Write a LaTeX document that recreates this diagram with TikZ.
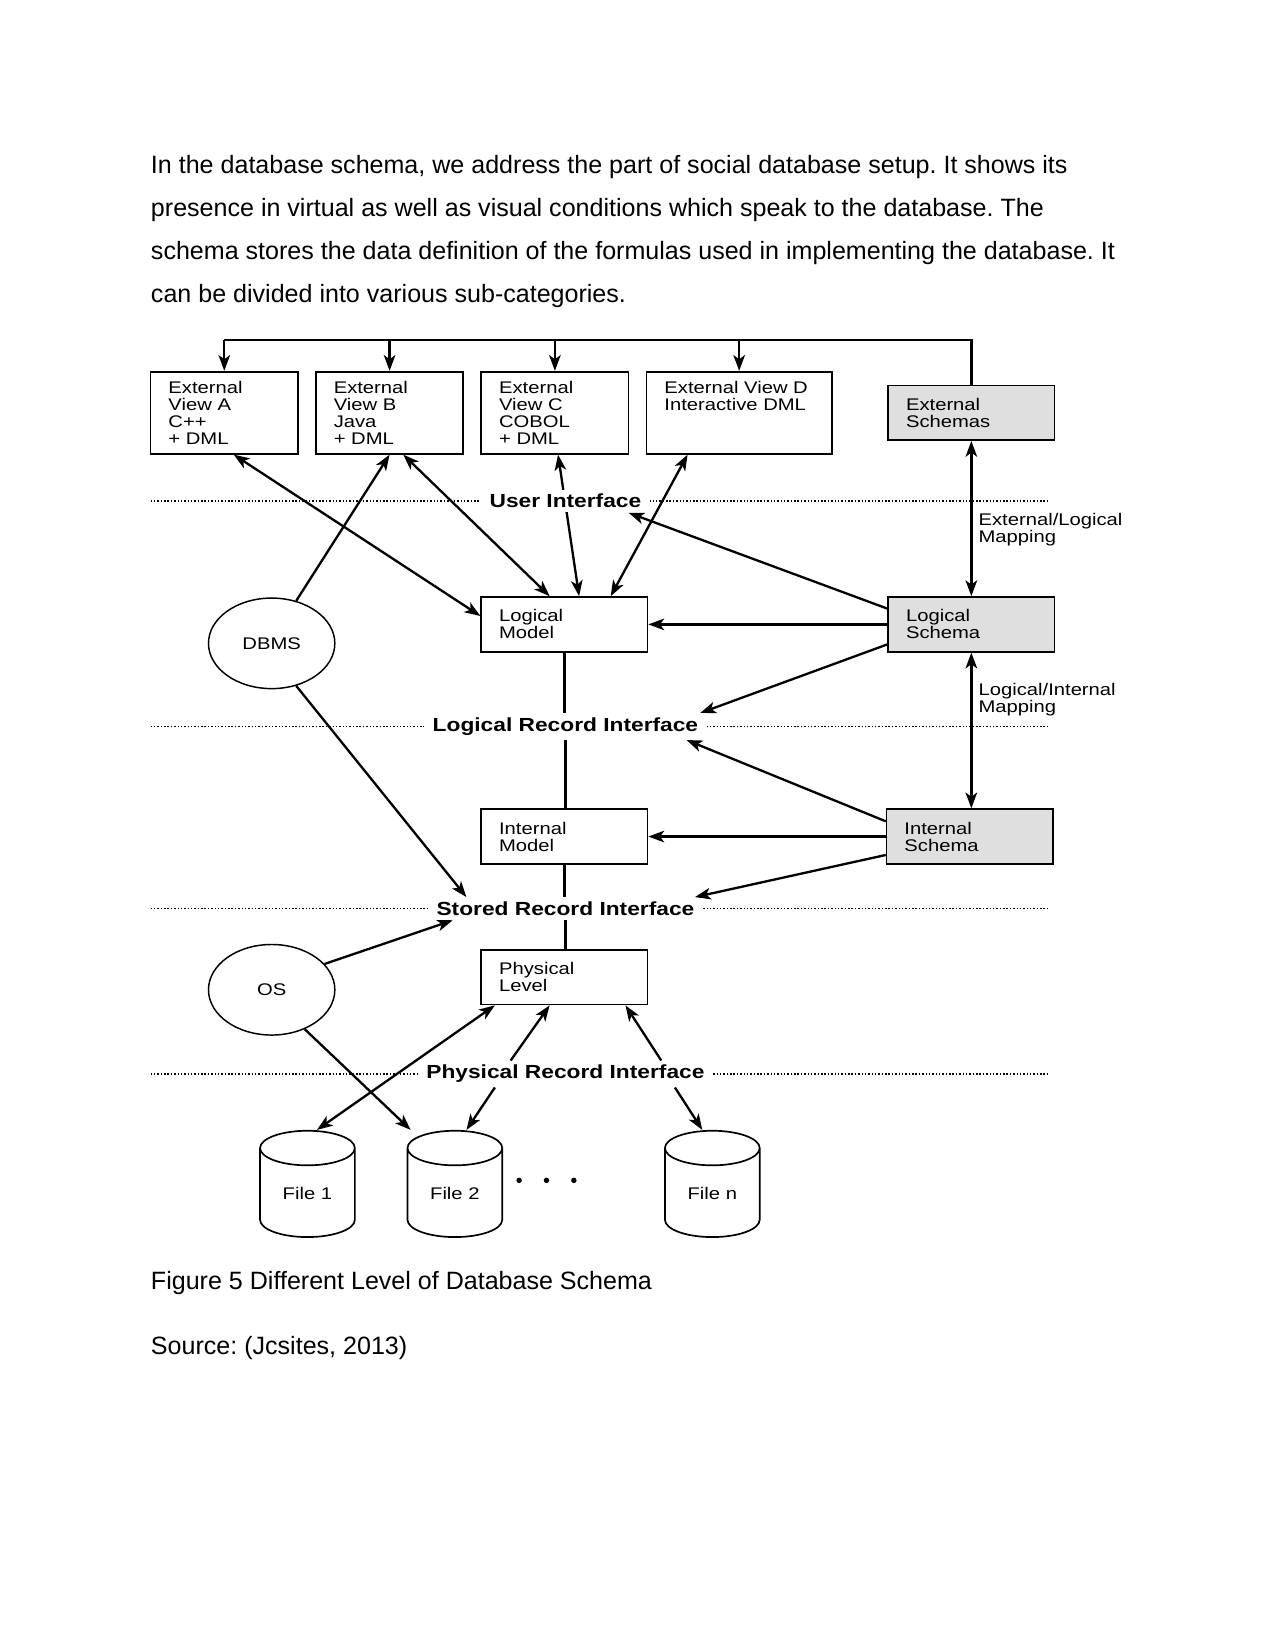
\documentclass[tikz,border=0pt]{standalone}
\usepackage{fontspec}
\setmainfont{Liberation Sans}
\newfontfamily\diafont{Liberation Sans}[FakeStretch=1.2]
\usetikzlibrary{arrows.meta,shapes.geometric}
\pgfdeclarelayer{back}
\pgfsetlayers{back,main}

\begin{document}
\frenchspacing
\begin{tikzpicture}[x=0.5pt, y=-0.5pt,
    box/.style={draw, line width=0.8pt, inner xsep=8.5pt, inner ysep=0pt, align=left, font=\diafont\fontsize{8}{8}\selectfont},
    viewbox/.style={box, text width=53pt, minimum height=39pt},
    levelbox/.style={box, text width=62pt, minimum height=26pt},
    schemabox/.style={levelbox, fill=gray!25},
    oval/.style={ellipse, draw, line width=0.7pt, minimum width=60pt, minimum height=43pt, font=\diafont\fontsize{8}{8}\selectfont},
    dbfile/.style={cylinder, shape border rotate=90, aspect=0.7, draw, line width=0.8pt, minimum width=45pt, minimum height=50.5pt, inner sep=0pt, font=\diafont\fontsize{8}{8}\selectfont},
    iface/.style={fill=white, inner xsep=4pt, inner ysep=2pt, font=\diafont\bfseries\fontsize{9}{9}\selectfont},
    divider/.style={line width=0.7pt, dash pattern=on 0.7pt off 0.9pt},
    maptext/.style={anchor=north west, inner sep=0pt, align=left, font=\diafont\fontsize{8}{8}\selectfont},
    link/.style={line width=1.1pt},
    arr/.style={link, -{Stealth[length=7.5pt, width=5.5pt, inset=2pt]}},
    darr/.style={link, {Stealth[length=7.5pt, width=5.5pt, inset=2pt]}-{Stealth[length=7.5pt, width=5.5pt, inset=2pt]}}]
    \useasboundingbox (0,0) rectangle (1211,1568);

    \node[anchor=north west, inner sep=0pt, align=left, font=\fontsize{11.9}{20.5}\selectfont] (intro) at (143,147)
        {In the database schema, we address the part of social database setup. It shows its\\
         presence in virtual as well as visual conditions which speak to the database. The\\
         schema stores the data definition of the formulas used in implementing the database. It\\
         can be divided into various sub-categories.};

    \node[viewbox] (va) at (213,392) {External\\View A\\C++\\+ DML};
    \node[viewbox] (vb) at (370,392) {External\\View B\\Java\\+ DML};
    \node[viewbox] (vc) at (527,392) {External\\View C\\COBOL\\+ DML};
    \node[viewbox, text width=71pt] (vd) at (702,392) {External View D\\Interactive DML\\~\\~};
    \node[schemabox] (es) at (922.5,392) {External\\Schemas};

    \node[levelbox] (lm) at (536,593) {Logical\\Model};
    \node[schemabox] (ls) at (922.5,593) {Logical\\Schema};
    \node[levelbox] (im) at (536,794.5) {Internal\\Model};
    \node[schemabox] (is) at (921,794.5) {Internal\\Schema};
    \node[levelbox] (pl) at (536,928) {Physical\\Level};

    \node[oval] (dbms) at (258,611) {DBMS};
    \node[oval] (os) at (258,940) {OS};

    \node[dbfile] (f1) at (292,1133) {File 1};
    \node[dbfile] (f2) at (432,1133) {File 2};
    \node[dbfile] (fn) at (676.5,1133) {File n};
    \foreach \x in {493,519,545} \fill (\x,1121) circle (1.3pt);

    \node[maptext] (elmap) at (929,487) {External/Logical\\Mapping};
    \node[maptext] (limap) at (929,649) {Logical/Internal\\Mapping};

    \foreach \n/\y/\t in {ui/476/User Interface, lri/690/Logical Record Interface, sri/863/Stored Record Interface, pri/1020/Physical Record Interface} {
        \node[iface] (\n) at (537,\y) {\t};
        \begin{pgfonlayer}{back}
            \draw[divider] (143,\y) -- (997,\y);
        \end{pgfonlayer}
    }

    \begin{pgfonlayer}{back}
    \coordinate (bus) at (0,323);
    \draw[link, line width=1.3pt] (es.north) -- (es.north |- bus) -- (va.north |- bus);
    \foreach \v in {va,vb,vc,vd} \draw[arr] (\v.north |- bus) -- (\v.north);

    \draw[darr] (va.south -| 222,0) -- (lm.west |- 0,585);
    \draw[arr] (dbms.60) -- (vb.south);
    \draw[darr] (vb.south -| 383,0) -- (lm.north -| 522,0);
    \draw[darr] (vc.south -| 530,0) -- (lm.north -| 550,0);
    \draw[darr] (vd.south -| 653,0) -- (lm.north -| 580,0);
    \draw[arr] (ls.west |- 0,578) -- (ui.south east -| 597,0);
    \draw[arr] (ls.west) -- (lm.east);
    \draw[arr] (ls.west |- 0,612) -- (lri.north east -| 665,0);
    \draw[darr] (es.south) -- (ls.north);
    \draw[darr] (ls.south) -- (ls.south |- is.north);
    \draw[arr] (is.west |- 0,780) -- (lri.south east -| 652,0);
    \draw[arr] (is.west) -- (im.east);
    \draw[arr] (is.west |- 0,812) -- (sri.north east -| 660,0);

    \draw[link] (lm.south) -- (lm.south |- lri.north);
    \draw[link] (lri.south) -- (lri.south |- im.north);
    \draw[link] (im.south) -- (im.south |- sri.north);
    \draw[link] (sri.south) -- (sri.south |- pl.north);

    \draw[arr] (dbms.-60) -- (sri.north west -| 443,0);
    \draw[arr] (os.26) -- (sri.south west -| 430,0);
    \draw[arr] (os.-50) -- (f2.north -| 390,0);
    \draw[darr] (f1.north -| 301,0) -- (pl.south -| 470,0);
    \draw[arr] (pri.north -| 485,0) -- (pl.south -| 522,0);
    \draw[arr] (pri.south -| 470,0) -- (f2.north -| 443,0);
    \draw[arr] (pri.north -| 628,0) -- (pl.south -| 594,0);
    \draw[arr] (pri.south -| 641,0) -- (fn.north -| 667,0);
    \end{pgfonlayer}

    \node[anchor=base west, inner sep=0pt, font=\fontsize{11.9}{14}\selectfont] (fig) at (143,1225) {Figure 5 Different Level of Database Schema};
    \node[anchor=base west, inner sep=0pt, font=\fontsize{11.9}{14}\selectfont] (src) at (143,1286) {Source: (Jcsites, 2013)};
\end{tikzpicture}
\end{document}
